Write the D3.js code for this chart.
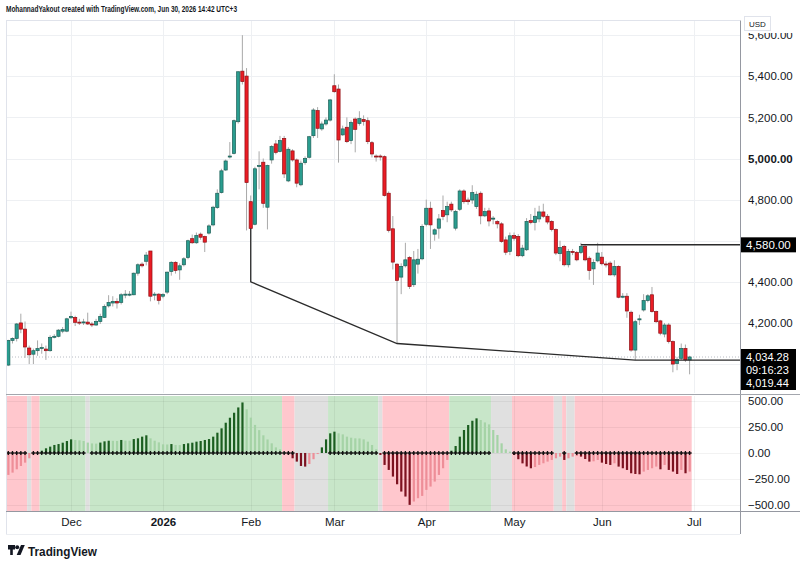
<!DOCTYPE html>
<html><head><meta charset="utf-8">
<script src="https://cdn.jsdelivr.net/npm/d3@7"></script>
<style>body{margin:0;background:#fff}svg{display:block}text{font-family:"Liberation Sans",Arial,sans-serif}</style>
</head><body><svg id="c" width="800" height="569"></svg>
<script>
// ---- DATA (daily bars, Nov 10 2025 .. Jun 30 2026) ----
const opens=[3995,4115,4125,4200,4170,4078,4048,4065,4078,4073,4065,4130,4135,4160,4160,4225,4227,4204,4203,4204,
4195,4190,4207,4227,4283,4297,4305,4300,4337,4338,4337,4442,4486,4500,4550,4335,4340,4330,4350,4450,
4495,4458,4483,4518,4610,4590,4632,4620,4637,4677,4761,4834,4944,5009,5025,5179,5425,5401,4790,4680,
4963,4982,4763,4993,5071,5034,5098,4891,5037,4993,4872,4980,5006,5111,5233,5144,5168,5187,5354,5338,
5115,5152,5087,5192,5171,5190,5184,5077,5012,5012,5009,4831,4658,4486,4423,4478,4518,4386,4486,4512,
4680,4758,4632,4661,4747,4726,4778,4661,4753,4842,4798,4798,4766,4831,4721,4745,4705,4693,4682,4604,
4548,4625,4621,4527,4556,4698,4689,4706,4740,4719,4694,4654,4537,4572,4483,4548,4543,4543,4572,4515,
4463,4502,4520,4487,4491,4434,4475,4328,4330,4252,4068,4215,4263,4309,4337,4255,4210,4146,4190,4109,
4003,4028,4076,4020];
const highs=[4118,4130,4200,4245,4207,4090,4075,4115,4100,4090,4140,4145,4170,4180,4225,4255,4235,4220,4220,4250,
4205,4220,4245,4290,4335,4330,4320,4345,4360,4355,4445,4490,4495,4545,4550,4350,4345,4345,4450,4500,
4500,4490,4520,4605,4630,4640,4640,4625,4680,4770,4850,4950,4995,5080,5190,5425,5600,5440,4820,4960,
5035,5000,4970,5065,5090,5110,5110,5055,5045,5000,4990,5010,5110,5245,5250,5180,5200,5290,5410,5360,
5160,5200,5185,5200,5230,5210,5200,5085,5020,5020,5015,4840,4720,4490,4490,4590,4525,4550,4560,4680,
4800,4790,4660,4730,4820,4790,4790,4750,4850,4850,4810,4870,4840,4840,4760,4760,4720,4700,4690,4620,
4640,4640,4632,4580,4710,4730,4760,4770,4780,4730,4700,4660,4600,4580,4560,4560,4550,4590,4580,4525,
4510,4590,4545,4500,4500,4505,4480,4345,4345,4260,4215,4240,4340,4340,4375,4260,4215,4200,4200,4115,
4035,4100,4095,4040];
const lows=[3990,4100,4110,4150,4030,4000,4000,4040,4050,4020,4060,4125,4130,4150,4155,4220,4185,4190,4190,4190,
4180,4185,4195,4225,4275,4280,4270,4290,4320,4330,4335,4430,4470,4480,4305,4310,4290,4320,4340,4430,
4440,4410,4475,4510,4585,4585,4605,4545,4630,4670,4755,4830,4940,5000,5020,5170,5360,4650,4655,4675,
4850,4760,4655,4975,5020,5030,4905,4885,4985,4860,4865,4970,5000,5100,5100,5135,5160,5180,5320,4980,
5110,5075,5070,5030,5160,5160,5070,5005,4985,4990,4815,4640,4460,4100,4340,4470,4365,4375,4440,4505,
4670,4560,4600,4610,4700,4690,4740,4650,4745,4780,4775,4780,4755,4680,4715,4670,4680,4660,4590,4530,
4530,4600,4520,4520,4550,4680,4650,4690,4710,4680,4645,4530,4500,4475,4470,4530,4500,4535,4500,4410,
4385,4495,4480,4470,4430,4425,4320,4320,4225,4060,4019.44,4190,4255,4300,4250,4200,4140,4130,4100,3960,
3970,4020,4010,3950];
const closes=[4115,4125,4195,4170,4083,4045,4065,4075,4080,4065,4130,4135,4165,4168,4220,4232,4203,4202,4205,4195,
4190,4207,4232,4280,4300,4305,4297,4337,4340,4340,4442,4483,4478,4530,4330,4340,4310,4338,4447,4495,
4455,4478,4512,4600,4590,4625,4617,4593,4672,4763,4831,4940,4988,5012,5184,5422,5374,4883,4660,4950,
4966,4782,4966,5058,5030,5087,4925,5045,4993,4880,4977,5000,5106,5236,5147,5168,5187,5285,5325,5090,
5144,5082,5175,5142,5194,5180,5082,5022,5009,5009,4820,4650,4496,4407,4475,4507,4377,4507,4510,4669,
4758,4677,4653,4706,4718,4766,4750,4742,4842,4790,4790,4834,4826,4721,4742,4696,4710,4682,4596,4544,
4624,4612,4527,4564,4694,4689,4719,4740,4719,4691,4654,4540,4567,4483,4548,4543,4507,4572,4507,4455,
4494,4540,4488,4486,4434,4475,4325,4330,4258,4068,4206,4220,4309,4332,4255,4206,4150,4190,4109,4000,
4023,4076,4020,4034.28];
// oscillator histogram
const hist=[-211,-189,-157,-125,-93,-51,-20,-5,22,45,61,77,86,99,115,131,125,122,115,100,
92,90,100,112,118,117,116,125,119,118,134,141,157,170,141,118,102,83,82,86,
77,76,86,93,99,109,115,125,134,157,195,237,291,339,387,438,486,420,340,270,
220,170,130,93,54,35,5,-13,-51,-83,-125,-131,-106,-60,-10,54,131,189,205,189,
179,157,147,141,140,131,109,77,35,-19,-115,-163,-227,-301,-371,-419,-499,-467,-435,-413,
-355,-323,-275,-211,-147,-67,22,67,157,221,269,310,333,317,294,275,221,173,93,35,
13,-19,-60,-100,-130,-147,-135,-115,-99,-83,-67,-51,-35,-67,-51,-35,-29,-35,-58,-83,
-80,-67,-93,-106,-115,-99,-131,-147,-163,-195,-202,-205,-179,-163,-147,-131,-157,-115,-163,-179,
-202,-163,-195,-179];
// background zones (bar index ranges)
const zoneFrom=[0,5,6,8,19,20,66,69,77,89,90,106,116,121,131,133,134,136];
const zoneTo=  [4,5,7,18,19,65,68,76,88,89,105,115,120,130,132,133,135,163];
const zoneKind=["bear","flat","bear","bull","flat","bull","bear","flat","bull","flat","bear","bull","flat","bear","flat","bear","flat","bear"];
// axes
const priceGrid=[4000,4200,4400,4600,4800,5000,5200,5400,5600];
const priceLabels=[4200,4400,4800,5000,5200,5400,5600];
const histTicks=[500,250,0,-250,-500];
const monthLabels=["Dec","2026","Feb","Mar","Apr","May","Jun","Jul"];
const monthIndex=[15,37,58,78,100,121,142,164];
// drawings
const trendIdx=[58,58,93,150,200];
const trendPrice=[4660,4400,4100,4019.44,4019.44];
const levelIdx=137, levelPrice=4580;
const lastPrice=4034.28, rayPrice=4019.44, countdown="09:16:23";
const header="MohannadYakout created with TradingView.com, Jun 30, 2026 14:42 UTC+3";

// ---- LAYOUT ----
const svg=d3.select("#c");
const L=6, R=740;
const x=d3.scaleLinear().domain([0,163]).range([8.3,689.6]);
const y=d3.scaleLinear().domain([3864,5669]).range([392,21]);
const yh=d3.scaleLinear().domain([-558,548]).range([511,396]);
const fmt=d3.format(",.2f");
const ink="#131722";

const defs=svg.append("defs");
defs.append("clipPath").attr("id","cp").append("rect").attr("x",L).attr("y",21).attr("width",R-L).attr("height",372);
defs.append("clipPath").attr("id","ch").append("rect").attr("x",L).attr("y",395).attr("width",R-L).attr("height",116);
defs.append("clipPath").attr("id","ca").append("rect").attr("x",741).attr("y",33).attr("width",59).attr("height",360);

// header
svg.append("text").attr("x",6).attr("y",12).attr("font-size",8.5).attr("font-weight",600).attr("fill",ink)
  .attr("textLength",231).attr("lengthAdjust","spacingAndGlyphs").text(header);

// grids
const grid=svg.append("g").attr("stroke","#eef0f3").attr("stroke-width",1);
priceGrid.forEach(p=>grid.append("line").attr("x1",L).attr("x2",R).attr("y1",Math.round(y(p))+0.5).attr("y2",Math.round(y(p))+0.5));
monthIndex.forEach(i=>grid.append("line").attr("x1",Math.round(x(i))+0.5).attr("x2",Math.round(x(i))+0.5).attr("y1",21).attr("y2",393));

// ---- indicator pane ----
const hp=svg.append("g").attr("clip-path","url(#ch)");
const zoneColor={bull:"#c8e6c9",bear:"#ffc7cd",flat:"#e0e0e0"};
const half=(x(1)-x(0))/2;
zoneFrom.forEach((s,k)=>{
  hp.append("rect").attr("x",x(s)-half).attr("width",x(zoneTo[k])-x(s)+2*half)
    .attr("y",396).attr("height",115).attr("fill",zoneColor[zoneKind[k]]);
});
const hg=hp.append("g").attr("stroke","rgba(0,0,0,0.05)");
histTicks.forEach(v=>hg.append("line").attr("x1",L).attr("x2",R).attr("y1",Math.round(yh(v))+0.5).attr("y2",Math.round(yh(v))+0.5));
monthIndex.forEach(i=>hg.append("line").attr("x1",Math.round(x(i))+0.5).attr("x2",Math.round(x(i))+0.5).attr("y1",396).attr("y2",511));
hp.selectAll("rect.h").data(hist).join("rect").attr("class","h")
  .attr("x",(d,i)=>x(i)-1).attr("width",2.2)
  .attr("y",d=>Math.min(yh(d),yh(0))).attr("height",d=>Math.abs(yh(d)-yh(0)))
  .attr("fill",(d,i)=>{const p=i?hist[i-1]:d; if(d>=0) return d>p?"#1b5e20":"#a5d3a6"; return d<p?"#7d1220":"#ee8e98";});
function inFlat(i){return zoneFrom.some((s,k)=>zoneKind[k]==="flat"&&i>=s&&i<=zoneTo[k]);}
hp.selectAll("path.z").data(hist.map((d,i)=>i).filter(i=>!inFlat(i))).join("path").attr("class","z")
  .attr("transform",i=>`translate(${x(i)},${yh(0)})`)
  .attr("d",d3.symbol(d3.symbolCross,9)).attr("fill","#111");

// ---- price pane ----
const pp=svg.append("g").attr("clip-path","url(#cp)");
pp.append("line").attr("x1",L).attr("x2",R).attr("y1",y(lastPrice)).attr("y2",y(lastPrice))
  .attr("stroke","#b8bcc4").attr("stroke-dasharray","1,2");
const idx=d3.range(closes.length);
pp.selectAll("line.w").data(idx).join("line").attr("class","w")
  .attr("x1",i=>x(i)).attr("x2",i=>x(i)).attr("y1",i=>y(highs[i])).attr("y2",i=>y(lows[i]))
  .attr("stroke","#a9a9a9").attr("stroke-width",1);
pp.selectAll("rect.b").data(idx).join("rect").attr("class","b")
  .attr("x",i=>x(i)-1.6).attr("width",3.2)
  .attr("y",i=>y(Math.max(opens[i],closes[i])))
  .attr("height",i=>Math.max(1,Math.abs(y(opens[i])-y(closes[i]))))
  .attr("fill",i=>closes[i]>=opens[i]?"#2a9d8f":"#ea1c24")
  .attr("stroke",i=>closes[i]>=opens[i]?"#1d5f57":"#8e1016").attr("stroke-width",0.7);
const line=d3.line().x(d=>x(d[0])).y(d=>y(d[1]));
pp.append("path").attr("d",line(trendIdx.map((t,k)=>[t,trendPrice[k]])))
  .attr("fill","none").attr("stroke","#2b2b2b").attr("stroke-width",1.3);
pp.append("line").attr("x1",x(levelIdx)).attr("x2",R).attr("y1",y(levelPrice)).attr("y2",y(levelPrice))
  .attr("stroke","#2b2b2b").attr("stroke-width",1.5);

// ---- frame ----
const fr=svg.append("g").attr("fill","none");
fr.append("line").attr("x1",L).attr("x2",R).attr("y1",20.5).attr("y2",20.5).attr("stroke","#e0e3eb");
fr.append("line").attr("x1",L+0.5).attr("x2",L+0.5).attr("y1",20.5).attr("y2",534).attr("stroke","#e0e3eb");
fr.append("line").attr("x1",R+0.5).attr("x2",R+0.5).attr("y1",20.5).attr("y2",534).attr("stroke","#9598a1");
fr.append("line").attr("x1",L).attr("x2",800).attr("y1",394.5).attr("y2",394.5).attr("stroke","#a3a6ad").attr("stroke-width",1.2);
fr.append("line").attr("x1",L).attr("x2",800).attr("y1",511.5).attr("y2",511.5).attr("stroke","#9598a1");
fr.append("line").attr("x1",L).attr("x2",R).attr("y1",534.5).attr("y2",534.5).attr("stroke","#eceef2");

// ---- axes ----
const pa=svg.append("g").attr("clip-path","url(#ca)").append("g").attr("transform","translate(746,0)")
  .call(d3.axisRight(y).tickValues(priceLabels).tickSize(0).tickPadding(2).tickFormat(fmt));
pa.select(".domain").remove();
pa.selectAll("text").attr("font-size",11.5).attr("fill",ink).attr("font-family","Liberation Sans, Arial, sans-serif")
  .attr("font-weight",d=>d===5000?700:400);
const ha=svg.append("g").attr("transform","translate(746,0)")
  .call(d3.axisRight(yh).tickValues(histTicks).tickSize(0).tickPadding(2).tickFormat(fmt));
ha.select(".domain").remove();
ha.selectAll("text").attr("font-size",11.5).attr("fill",ink).attr("font-family","Liberation Sans, Arial, sans-serif");
const xa=svg.append("g").attr("transform","translate(0,511)")
  .call(d3.axisBottom(x).tickValues(monthIndex).tickSize(0).tickPadding(7).tickFormat((d,i)=>monthLabels[i]));
xa.select(".domain").remove();
xa.selectAll("text").attr("font-size",11.5).attr("fill",ink).attr("font-family","Liberation Sans, Arial, sans-serif")
  .attr("font-weight",(d,i)=>monthLabels[i]==="2026"?700:400);

// USD box
svg.append("rect").attr("x",744.5).attr("y",16.5).attr("width",26).attr("height",14).attr("fill","#fff").attr("stroke","#e0e3eb");
svg.append("text").attr("x",749).attr("y",27).attr("font-size",8).attr("fill",ink).text("USD");

// level label
const yl=y(levelPrice);
svg.append("rect").attr("x",741).attr("y",yl-7.5).attr("width",55).attr("height",15).attr("fill","#000");
svg.append("text").attr("x",746).attr("y",yl+4).attr("font-size",11.5).attr("fill","#fff").text(fmt(levelPrice));
// current price + countdown + ray label
const yc=y(lastPrice);
svg.append("rect").attr("x",741).attr("y",yc-8).attr("width",55).attr("height",41).attr("fill","#000");
[fmt(lastPrice),countdown,fmt(rayPrice)].forEach((t,k)=>
  svg.append("text").attr("x",746).attr("y",yc+4+k*13).attr("font-size",11).attr("fill","#fff").text(t));

// logo
const lg=svg.append("g").attr("transform","translate(8,545)").attr("fill",ink);
lg.append("path").attr("d","M0,0H7V4.5H4.8V10H2.2V4.5H0Z");
lg.append("circle").attr("cx",9.2).attr("cy",2.2).attr("r",2);
lg.append("path").attr("d","M13,0H16.8L12.5,10H8.7Z");
svg.append("text").attr("x",28).attr("y",555.5).attr("font-size",13).attr("font-weight",700).attr("fill",ink)
  .attr("textLength",69).attr("lengthAdjust","spacingAndGlyphs").text("TradingView");
</script></body></html>
